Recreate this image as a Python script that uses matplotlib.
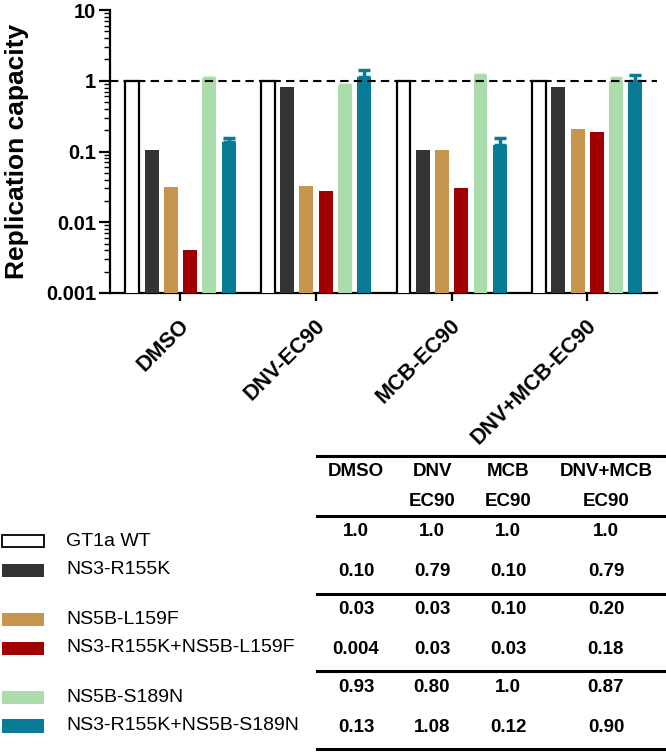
import numpy as np
import matplotlib
matplotlib.use('Agg')
import matplotlib.pyplot as plt
import matplotlib.transforms as mtransforms
from matplotlib.patches import Rectangle
from matplotlib.lines import Line2D
from matplotlib.ticker import LogLocator, FuncFormatter, NullFormatter

plt.rcParams['font.family'] = ['Liberation Sans', 'DejaVu Sans']

# treatments (x groups)
treatments = ['DMSO', 'DNV-EC90', 'MCB-EC90', 'DNV+MCB-EC90']
strains = ['GT1a WT', 'NS3-R155K', 'NS5B-L159F', 'NS3-R155K+NS5B-L159F',
           'NS5B-S189N', 'NS3-R155K+NS5B-S189N']
colors = ['white', '#333333', '#c8954f', '#a00000', '#abdcac', '#097b96']

# bar heights
wt = [1.0, 1.0, 1.0, 1.0]
r155k = [0.105, 0.82, 0.105, 0.82]
l159f = [0.031, 0.033, 0.105, 0.21]
r155k_l159f = [0.0041, 0.028, 0.030, 0.19]
s189n = [1.10, 0.88, 1.14, 0.98]
r155k_s189n = [0.135, 1.12, 0.125, 0.98]
bar_values = [wt, r155k, l159f, r155k_l159f, s189n, r155k_s189n]

# upper error (only drawn upwards)
s189n_err = [0.0, 0.0, 0.08, 0.1]
r155k_s189n_err = [0.02, 0.3, 0.03, 0.22]
bar_errors = [None, None, None, None, s189n_err, r155k_s189n_err]

# table shown under the plot
table_header = [('DMSO', ''), ('DNV', 'EC90'), ('MCB', 'EC90'), ('DNV+MCB', 'EC90')]
table_rows = [
    ['1.0', '1.0', '1.0', '1.0'],
    ['0.10', '0.79', '0.10', '0.79'],
    ['0.03', '0.03', '0.10', '0.20'],
    ['0.004', '0.03', '0.03', '0.18'],
    ['0.93', '0.80', '1.0', '0.87'],
    ['0.13', '1.08', '0.12', '0.90'],
]

W, H = 666, 752
fig = plt.figure(figsize=(W / 100, H / 100), dpi=100)


def fx(px):
    return px / W


def fy(py):
    return 1 - py / H


ax = fig.add_axes([fx(110), fy(293), fx(657) - fx(110), fy(10) - fy(293)])

x = np.arange(len(treatments))
step = 0.142
width = 0.103
for i, (vals, c) in enumerate(zip(bar_values, colors)):
    pos = x + (i - 2.5) * step
    if i == 0:
        ax.bar(pos, vals, width=width, color='white', edgecolor='black',
               linewidth=1.6, zorder=3)
    else:
        ax.bar(pos, vals, width=width, color=c, edgecolor='none', zorder=3)
    if bar_errors[i] is not None:
        err = np.array([np.zeros(len(vals)), bar_errors[i]])
        ax.errorbar(pos, vals, yerr=err, fmt='none', ecolor=c, elinewidth=2.5,
                    capsize=4, capthick=2.5, zorder=2)

ax.axhline(1.0, color='black', linestyle=(0, (4, 2.5)), linewidth=1.5, zorder=4)

ax.set_yscale('log')
ax.set_ylim(0.001, 10)
ax.set_xlim(-0.52, 3.515)
ax.yaxis.set_major_locator(LogLocator(base=10, numticks=10))
ax.yaxis.set_minor_locator(LogLocator(base=10, subs=np.arange(2, 10), numticks=20))
ax.yaxis.set_major_formatter(FuncFormatter(lambda v, p: '%g' % v))
ax.yaxis.set_minor_formatter(NullFormatter())

for s in ['top', 'right']:
    ax.spines[s].set_visible(False)
for s in ['left', 'bottom']:
    ax.spines[s].set_linewidth(1.6)

ax.tick_params(axis='y', which='major', length=8, width=1.6, labelsize=14.5, pad=2)
ax.tick_params(axis='y', which='minor', length=4, width=1.0)
ax.tick_params(axis='x', which='major', length=6, width=1.6, labelsize=15.5, pad=6)
for lab in ax.get_yticklabels():
    lab.set_fontweight('bold')

ax.set_xticks(x)
ax.set_xticklabels(treatments, rotation=45, ha='right', va='center',
                   rotation_mode='anchor', fontweight='bold')
shift = mtransforms.ScaledTranslation(6 / 100, 0, fig.dpi_scale_trans)
for lab in ax.get_xticklabels():
    lab.set_y(-0.045)
    lab.set_transform(lab.get_transform() + shift)
ax.set_ylabel('Replication capacity', fontsize=19, fontweight='bold')
ax.yaxis.set_label_coords(-0.148, 0.5)

# legend on the left
legend_y = [541, 570, 619, 648, 697, 726]
for name, c, py in zip(strains, colors, legend_y):
    if c == 'white':
        fig.patches.append(Rectangle((fx(2), fy(py + 6)), fx(42), fy(py - 6) - fy(py + 6),
                                     transform=fig.transFigure, facecolor='white',
                                     edgecolor='black', linewidth=1.3))
    else:
        fig.patches.append(Rectangle((fx(2), fy(py + 6.5)), fx(42), fy(py - 6.5) - fy(py + 6.5),
                                     transform=fig.transFigure, facecolor=c,
                                     edgecolor='none'))
    fig.text(fx(66), fy(py), name, fontsize=14, va='center', ha='left')

# table on the right
col_x = [356, 432, 508, 606]
for py in [456, 516, 594, 671, 749]:
    fig.add_artist(Line2D([fx(317), fx(665)], [fy(py), fy(py)], color='black',
                          linewidth=2.2, transform=fig.transFigure))
for (h1, h2), cx in zip(table_header, col_x):
    fig.text(fx(cx), fy(472), h1, fontsize=13.5, fontweight='bold', ha='center', va='center')
    if h2:
        fig.text(fx(cx), fy(501), h2, fontsize=13.5, fontweight='bold', ha='center', va='center')
row_y = [532, 571, 610, 649, 688, 727]
for row, py in zip(table_rows, row_y):
    for val, cx in zip(row, col_x):
        fig.text(fx(cx), fy(py), val, fontsize=13.5, fontweight='bold', ha='center', va='center')

fig.savefig('out.png', dpi=100)
